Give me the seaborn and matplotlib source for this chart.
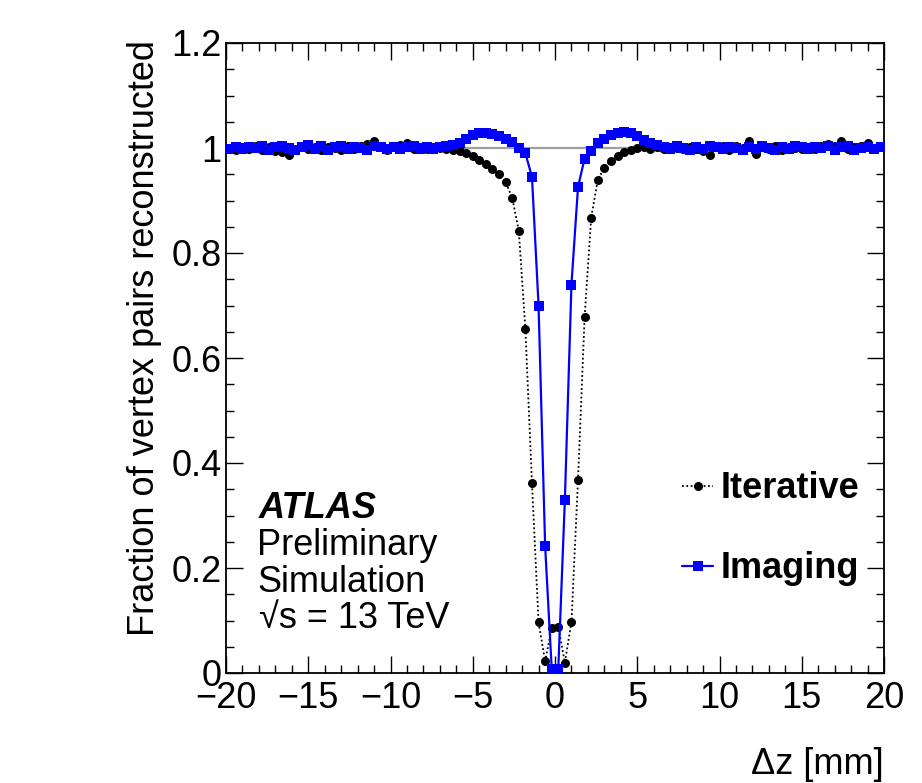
import numpy as np
import matplotlib
matplotlib.use("Agg")
import matplotlib.pyplot as plt
import seaborn as sns
from matplotlib.ticker import MultipleLocator, FuncFormatter
from matplotlib.lines import Line2D

# ---- data -------------------------------------------------------------
# bin centres of delta z [mm] (0.4 mm bins from -20 to 20)
dz = np.arange(-19.8, 20.0, 0.4).round(1)

iterative = [
    1.000, 0.997, 1.002, 0.999, 1.003, 0.996, 1.001, 0.995, 0.992, 0.986,
    0.998, 1.003, 0.999, 1.001, 0.996, 1.002, 1.000, 0.997, 1.004, 0.999,
    1.003, 1.008, 1.014, 1.002, 0.997, 1.001, 1.006, 1.010, 0.998, 1.002,
    0.999, 1.002, 1.000, 0.998, 0.996, 0.994, 0.990, 0.985, 0.977, 0.970,
    0.960, 0.950, 0.935, 0.905, 0.842, 0.655, 0.362, 0.097, 0.022, 0.086,
    0.088, 0.020, 0.097, 0.368, 0.678, 0.867, 0.940, 0.962, 0.975, 0.985,
    0.993, 0.997, 1.000, 1.001, 0.999, 1.002, 0.998, 1.001, 1.000, 0.999,
    1.002, 0.998, 0.995, 0.987, 1.001, 1.004, 0.997, 1.003, 1.000, 1.014,
    0.988, 1.001, 0.999, 1.003, 0.997, 1.002, 1.000, 0.998, 1.001, 0.999,
    1.003, 1.008, 1.004, 1.013, 0.998, 1.001, 1.004, 1.010, 0.999, 1.001,
]

imaging = [
    0.999, 1.001, 0.998, 1.002, 1.000, 1.003, 0.997, 1.001, 1.004, 1.000,
    0.996, 1.002, 1.005, 0.999, 1.003, 0.997, 1.001, 1.004, 0.998, 1.002,
    1.000, 0.997, 1.003, 1.001, 0.998, 1.002, 0.999, 1.001, 1.004, 0.998,
    1.001, 0.999, 1.002, 1.003, 1.005, 1.010, 1.018, 1.025, 1.028, 1.028,
    1.027, 1.022, 1.018, 1.012, 1.000, 0.990, 0.945, 0.700, 0.242, 0.008,
    0.008, 0.330, 0.740, 0.926, 0.980, 0.995, 1.010, 1.018, 1.025, 1.028,
    1.030, 1.028, 1.022, 1.015, 1.010, 1.005, 1.002, 0.999, 1.003, 1.000,
    0.997, 1.002, 0.999, 1.004, 1.001, 0.998, 1.002, 1.000, 0.996, 1.001,
    0.999, 1.003, 1.000, 0.997, 1.002, 0.999, 1.004, 1.001, 0.998, 1.002,
    1.000, 1.003, 0.997, 1.001, 1.004, 0.996, 1.000, 1.002, 0.999, 1.001,
]

series_labels = ["Iterative", "Imaging"]
y_ticks = [0, 0.2, 0.4, 0.6, 0.8, 1.0, 1.2]
x_ticks = [-20, -15, -10, -5, 0, 5, 10, 15, 20]
atlas_lines = ["Preliminary", "Simulation", "\u221as = 13 TeV"]

# ---- style ------------------------------------------------------------
sns.set_style("ticks")
plt.rcParams["font.family"] = ["Liberation Sans", "DejaVu Sans"]
plt.rcParams["axes.unicode_minus"] = True
for k in ["text.color", "axes.labelcolor", "xtick.color", "ytick.color",
          "axes.edgecolor"]:
    plt.rcParams[k] = "black"

FS = 26

fig = plt.figure(figsize=(9.22, 7.83), dpi=100)
ax = fig.add_axes([226 / 922, 1 - 673 / 783, (884 - 226) / 922, (673 - 43) / 783])

ax.axhline(1.0, color="#a0a0a0", lw=1.6, zorder=1)

sns.lineplot(x=dz, y=iterative, ax=ax, color="black", lw=1.3,
             linestyle=(0, (1.0, 1.4)), marker="o", markersize=6.5,
             markeredgewidth=0, estimator=None, sort=False, zorder=2)
sns.lineplot(x=dz, y=imaging, ax=ax, color="#0000ff", lw=1.6,
             linestyle="-", marker="s", markersize=6.5,
             markeredgewidth=0, estimator=None, sort=False, zorder=3)

ax.set_xlim(-20, 20)
ax.set_ylim(0, 1.2)

ax.set_xticks(x_ticks)
ax.set_yticks(y_ticks)
ax.xaxis.set_minor_locator(MultipleLocator(1))
ax.yaxis.set_minor_locator(MultipleLocator(0.05))
ax.yaxis.set_major_formatter(FuncFormatter(lambda v, p: f"{v:g}"))
ax.xaxis.set_major_formatter(FuncFormatter(lambda v, p: f"{v:g}".replace("-", "\u2212")))

ax.tick_params(which="both", direction="in", top=True, right=True,
               labelsize=FS, width=1.0, color="black", labelcolor="black")
ax.tick_params(which="major", length=12)
ax.tick_params(which="minor", length=6)
ax.tick_params(axis="x", which="major", pad=6)
ax.tick_params(axis="y", which="major", pad=3)
for s in ax.spines.values():
    s.set_linewidth(1.3)
    s.set_color("black")

ax.set_ylabel("Fraction of vertex pairs reconstructed", fontsize=FS, loc="top")
ax.yaxis.set_label_coords(-0.097, 1.005)
ax.set_xlabel("\u0394z [mm]", fontsize=FS, loc="right")
ax.xaxis.set_label_coords(1.0, -0.117)

# ATLAS label block
ax.text(0.049, 0.246, "ATLAS", transform=ax.transAxes, fontsize=FS,
        fontweight="bold", fontstyle="italic", va="baseline", ha="left")
ax.text(0.047, 0.187, atlas_lines[0], transform=ax.transAxes, fontsize=FS,
        va="baseline", ha="left")
ax.text(0.047, 0.129, atlas_lines[1], transform=ax.transAxes, fontsize=FS,
        va="baseline", ha="left")
ax.text(0.050, 0.071, atlas_lines[2], transform=ax.transAxes,
        fontsize=FS, va="baseline", ha="left")

handles = [
    Line2D([], [], color="black", lw=1.3, linestyle=(0, (1.0, 1.4)),
           marker="o", markersize=6.5, markeredgewidth=0),
    Line2D([], [], color="#0000ff", lw=1.6, linestyle="-",
           marker="s", markersize=6.5, markeredgewidth=0),
]
leg = ax.legend(handles, series_labels, loc="upper left",
                bbox_to_anchor=(0.666, 0.349), frameon=False, borderpad=0,
                handlelength=0.86, handletextpad=0.2, labelspacing=1.25,
                prop={"size": FS, "weight": "bold"})
for t in leg.get_texts():
    t.set_color("black")

fig.savefig("out.png", dpi=100)
